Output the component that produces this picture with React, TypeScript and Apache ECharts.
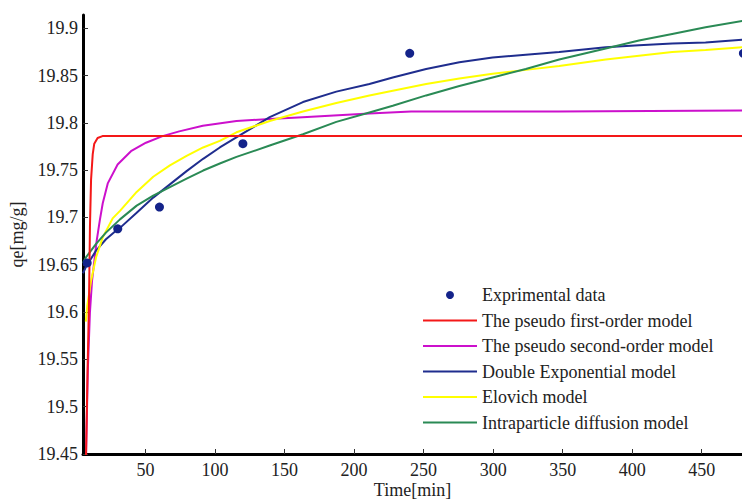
import React, { useEffect, useRef } from "react";
import * as echarts from "echarts";

// Tick labels
const xTicks = [50, 100, 150, 200, 250, 300, 350, 400, 450];
const yTicks = [19.45, 19.5, 19.55, 19.6, 19.65, 19.7, 19.75, 19.8, 19.85, 19.9];

// Experimental data
const expT = [8, 30, 60, 120, 240, 480];
const expQ = [19.652, 19.688, 19.711, 19.778, 19.8735, 19.8735];

// The pseudo first-order model
const redT = [6.8, 7.2, 8.3, 9.3, 10.0, 10.8, 12.0, 13.1, 15.5, 19, 120, 240, 360, 480];
const redQ = [19.4, 19.45, 19.54, 19.61, 19.69, 19.74, 19.767, 19.778, 19.784, 19.786, 19.786, 19.786, 19.786, 19.786];

// The pseudo second-order model
const magT = [7.0, 7.2, 8.5, 10.0, 11.5, 14.8, 17.2, 19.2, 22.8, 29.9, 39.5, 50.3, 62.2, 74.2, 91.2, 115.4, 139.3, 163, 211, 241, 347, 480];
const magQ = [19.43, 19.45, 19.54, 19.6, 19.633, 19.675, 19.698, 19.715, 19.736, 19.756, 19.77, 19.779, 19.786, 19.791, 19.797, 19.802, 19.804, 19.806, 19.81, 19.812, 19.812, 19.813];

// Double Exponential model
const blueT = [5, 7.2, 14.4, 21.5, 28.7, 31.6, 43.6, 55.5, 67.5, 79.5, 91.4, 103.4, 118, 139.3, 163.2, 187.2, 211, 227.8, 251.8, 275.7, 299.6, 323.5, 347.5, 381, 404.9, 428.8, 452.8, 480];
const blueQ = [19.641, 19.648, 19.665, 19.677, 19.686, 19.689, 19.705, 19.721, 19.735, 19.749, 19.762, 19.774, 19.787, 19.806, 19.822, 19.833, 19.841, 19.848, 19.857, 19.864, 19.869, 19.872, 19.875, 19.88, 19.882, 19.884, 19.885, 19.888];

// Elovich model
const yelT = [7, 8.1, 10.8, 14.4, 19.2, 26.3, 31.6, 43.6, 55.5, 67.5, 79.5, 91.4, 103.4, 115.4, 139.3, 163.2, 187.2, 211, 227.8, 251.8, 275.7, 299.6, 323.5, 347.5, 381, 404.9, 428.8, 452.8, 480];
const yelQ = [19.59, 19.607, 19.633, 19.658, 19.679, 19.699, 19.707, 19.727, 19.743, 19.755, 19.765, 19.774, 19.781, 19.79, 19.802, 19.812, 19.821, 19.829, 19.834, 19.841, 19.847, 19.852, 19.856, 19.86, 19.867, 19.871, 19.875, 19.877, 19.88];

// Intraparticle diffusion model
const grnT = [5, 7.2, 14.4, 21.5, 31.6, 43.6, 55.5, 67.5, 79.5, 91.4, 103.4, 115.4, 139.3, 163.2, 187.2, 211, 227.8, 251.8, 275.7, 299.6, 323.5, 347.5, 381, 404.9, 428.8, 452.8, 480];
const grnQ = [19.652, 19.658, 19.672, 19.684, 19.698, 19.7125, 19.723, 19.732, 19.741, 19.7496, 19.757, 19.764, 19.776, 19.788, 19.801, 19.811, 19.818, 19.829, 19.839, 19.848, 19.857, 19.867, 19.8785, 19.887, 19.894, 19.901, 19.908];

const FONT = "'Liberation Serif', 'Times New Roman', serif";
const LINE_ICON = "path://M0,0L54,0L54,2L0,2Z";

const pairs = (t: number[], q: number[]) => t.map((v, i) => [v, q[i]]);

export default function App() {
  const ref = useRef<HTMLDivElement>(null);

  useEffect(() => {
    if (!ref.current) return;
    const chart = echarts.init(ref.current, null, { renderer: "svg" });
    const lineSeries = (name: string, color: string, t: number[], q: number[]) => ({
      name,
      type: "line",
      data: pairs(t, q),
      symbol: "none",
      showSymbol: false,
      smooth: false,
      clip: true,
      lineStyle: { color, width: 2 },
      itemStyle: { color },
      z: 2,
    });
    chart.setOption({
      animation: false,
      backgroundColor: "#ffffff",
      textStyle: { fontFamily: FONT },
      grid: { left: 83, right: 0, top: 15, bottom: 46, containLabel: false, outerBoundsMode: "none" },
      legend: {
        orient: "vertical",
        left: 423,
        top: 286,
        padding: 0,
        itemWidth: 54,
        itemHeight: 8,
        itemGap: 7.5,
        selectedMode: false,
        textStyle: { fontSize: 18, fontFamily: FONT, color: "#222", lineHeight: 18 },
        data: [
          { name: "Exprimental data", icon: "circle" },
          { name: "The pseudo first-order model", icon: LINE_ICON },
          { name: "The pseudo second-order model", icon: LINE_ICON },
          { name: "Double Exponential model", icon: LINE_ICON },
          { name: "Elovich model", icon: LINE_ICON },
          { name: "Intraparticle diffusion model", icon: LINE_ICON },
        ],
      },
      xAxis: {
        type: "value",
        min: 5,
        max: 479,
        name: "Time[min]",
        nameLocation: "middle",
        nameGap: 27,
        nameMoveOverlap: false,
        nameTextStyle: { fontSize: 18, fontFamily: FONT, color: "#222", lineHeight: 18 },
        axisLine: { show: true, onZero: false, lineStyle: { color: "#000", width: 3 } },
        axisTick: { show: true, inside: true, length: 5, customValues: xTicks, lineStyle: { color: "#333", width: 1 } },
        axisLabel: { customValues: xTicks, margin: 7, fontSize: 18, fontFamily: FONT, color: "#222" },
        splitLine: { show: false },
      },
      yAxis: {
        type: "value",
        min: 19.45,
        max: 19.914,
        name: "qe[mg/g]",
        nameLocation: "middle",
        nameGap: 57,
        nameMoveOverlap: false,
        nameTextStyle: { fontSize: 18, fontFamily: FONT, color: "#222" },
        axisLine: { show: true, onZero: false, lineStyle: { color: "#000", width: 3 } },
        axisTick: { show: true, inside: true, length: 5, customValues: yTicks, lineStyle: { color: "#333", width: 1 } },
        axisLabel: { customValues: yTicks, margin: 5, fontSize: 18, fontFamily: FONT, color: "#222" },
        splitLine: { show: false },
      },
      series: [
        {
          name: "Exprimental data",
          type: "scatter",
          data: pairs(expT, expQ),
          symbol: "circle",
          symbolSize: 9,
          clip: false,
          itemStyle: { color: "#14238a", opacity: 1 },
          z: 5,
        },
        lineSeries("The pseudo second-order model", "#cc10cc", magT, magQ),
        lineSeries("Double Exponential model", "#1f2d8e", blueT, blueQ),
        lineSeries("Elovich model", "#ffff00", yelT, yelQ),
        lineSeries("Intraparticle diffusion model", "#2a8a55", grnT, grnQ),
        lineSeries("The pseudo first-order model", "#f41818", redT, redQ),
      ],
    });
    return () => chart.dispose();
  }, []);

  return (
    <div
      ref={ref}
      style={{ position: "absolute", left: 0, top: 0, width: 742, height: 500, background: "#fff" }}
    />
  );
}
